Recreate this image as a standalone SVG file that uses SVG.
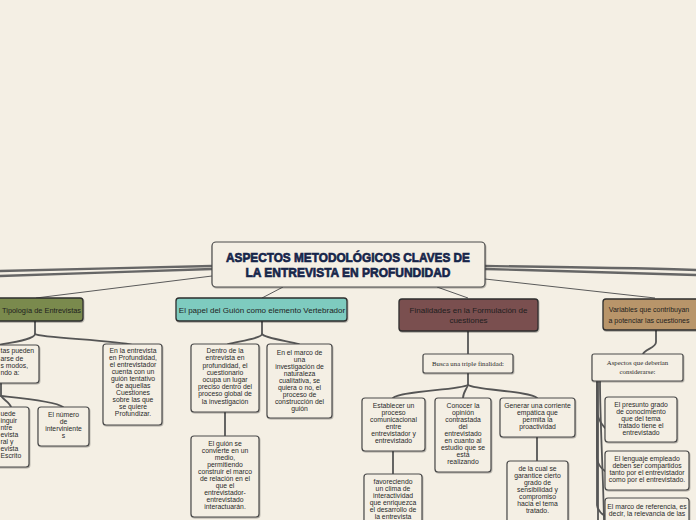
<svg xmlns="http://www.w3.org/2000/svg" width="696" height="520" viewBox="0 0 696 520">
<defs>
<style>
.bg{fill:#f4efe4}
.box{fill:#f4efe4;stroke:#4a4a4a;stroke-width:1.2}
.main{stroke:#2e2e2e;stroke-width:1.3}
.t{font-family:"Liberation Sans",Arial,sans-serif;font-size:6.8px;fill:#2a2a2a;text-anchor:middle}
.m{font-family:"Liberation Sans",Arial,sans-serif;font-size:8px;fill:#1e1e1e;text-anchor:middle}
.l{text-anchor:start}
.s{font-family:"Liberation Serif","Times New Roman",serif;font-size:6.8px;fill:#2a2a2a;text-anchor:middle}
.title{font-family:"Liberation Sans",Arial,sans-serif;font-weight:bold;font-size:13.5px;fill:#16254a;stroke:#16254a;stroke-width:0.7;text-anchor:middle}
.c{fill:none;stroke:#555;stroke-width:1.8;stroke-linecap:round}
.thin{fill:none;stroke:#5a5a5a;stroke-width:1}
.thick{fill:none;stroke:#666;stroke-width:2.4}
</style>
<filter id="sh" x="-10%" y="-10%" width="120%" height="130%">
<feDropShadow dx="0.6" dy="1" stdDeviation="0.6" flood-color="#000" flood-opacity="0.3"/>
</filter>
</defs>
<rect class="bg" x="0" y="0" width="696" height="520"/>

<g id="connectors">
<path class="thick" d="M212,266 C150,267 60,270 0,271"/>
<path class="thick" d="M212,269 C150,271 60,274 0,276" stroke-width="1.6"/>
<path class="thick" d="M485,266 C560,267 640,268 696,270"/>
<path class="thick" d="M485,269 C560,271 640,273 696,275" stroke-width="1.6"/>
<path class="thin" d="M212,276 L36,298"/>
<path class="thin" d="M283,287 L262,298"/>
<path class="thin" d="M437,287 L468,298"/>
<path class="thin" d="M485,279 L655,298"/>
<path class="c" d="M35,321 V334 C35,339 15,342 -2,345"/>
<path class="c" d="M35,334 C40,338 115,340 133,345"/>
<path class="c" d="M1,383 V396 C4,400 10,403 11,407"/>
<path class="c" d="M1,396 C20,398 55,401 63,407"/>
<path class="c" d="M262,321 V334 C262,338 240,341 228,344"/>
<path class="c" d="M262,334 C264,338 288,341 299,344"/>
<path class="c" d="M225,412 V436"/>
<path class="c" d="M468,331 V354"/>
<path class="c" d="M468,373 V385 C460,390 400,391 393,398"/>
<path class="c" d="M468,385 C466,390 463,393 463,398"/>
<path class="c" d="M468,385 C475,390 530,391 537,398"/>
<path class="c" d="M393,451 V474"/>
<path class="c" d="M537,437 V461"/>
<path class="c" d="M656,330 V342 C656,348 645,349 643,354"/>
<path class="c" d="M597,381 V410 C597,420 602,424 605,428"/>
<path class="c" d="M597,381 V458 C598,466 602,469 605,471"/>
<path class="c" d="M597,381 V505 C598,512 602,514 605,516"/>
<path class="c" d="M598,381 V520"/>
<path class="c" d="M600,381 C600,420 603,470 604,520"/>
</g>

<g id="root">
<rect class="box" x="212" y="242" width="273" height="45" rx="4" stroke="#777" filter="url(#sh)"/>
<text class="title" x="348" y="262" textLength="244" lengthAdjust="spacingAndGlyphs">ASPECTOS METODOLÓGICOS CLAVES DE</text>
<text class="title" x="348" y="277" textLength="205" lengthAdjust="spacingAndGlyphs">LA ENTREVISTA EN PROFUNDIDAD</text>
</g>

<g id="tipologia">
<rect class="main" x="-10" y="298" width="93" height="23" rx="3" fill="#7a8a4e" filter="url(#sh)"/>
<text class="m" x="2" y="312.5" style="text-anchor:start;font-size:7.4px">Tipología de Entrevistas</text>
</g>
<g id="tip-clasificacion">
<rect class="box" x="-40" y="345" width="79" height="38" rx="3" filter="url(#sh)"/>
<text class="t" style="text-anchor:start"><tspan x="0.5" y="353">tas pueden</tspan><tspan x="0.5" y="361">arse de</tspan><tspan x="0.5" y="368">s modos,</tspan><tspan x="0.5" y="375">ndo a:</tspan></text>
</g>
<g id="tip-oral-escrito">
<rect class="box" x="-25" y="407" width="54" height="60" rx="3" filter="url(#sh)"/>
<text class="t" style="text-anchor:start"><tspan x="0.5" y="416">uede</tspan><tspan x="0.5" y="423">inguir</tspan><tspan x="0.5" y="430">ntre</tspan><tspan x="0.5" y="437">evista</tspan><tspan x="0.5" y="444">ral y</tspan><tspan x="0.5" y="451">evista</tspan><tspan x="0.5" y="458">Escrito</tspan></text>
</g>
<g id="tip-intervinientes">
<rect class="box" x="38" y="407" width="51" height="39" rx="3" filter="url(#sh)"/>
<text class="t"><tspan x="63.5" y="417">El número</tspan><tspan x="63.5" y="424">de</tspan><tspan x="63.5" y="431">interviniente</tspan><tspan x="63.5" y="438">s</tspan></text>
</g>
<g id="tip-profundidad">
<rect class="box" x="103" y="344" width="59" height="81" rx="3" filter="url(#sh)"/>
<text class="t"><tspan x="133" y="353">En la entrevista</tspan><tspan x="133" y="360">en Profundidad,</tspan><tspan x="133" y="367">el entrevistador</tspan><tspan x="133" y="374">cuenta con un</tspan><tspan x="133" y="381">guión tentativo</tspan><tspan x="133" y="388">de aquellas</tspan><tspan x="133" y="395">Cuestiones</tspan><tspan x="133" y="402">sobre las que</tspan><tspan x="133" y="409">se quiere</tspan><tspan x="133" y="416">Profundizar.</tspan></text>
</g>

<g id="papel">
<rect class="main" x="176" y="298" width="171" height="23" rx="3" fill="#7ecbbf" filter="url(#sh)"/>
<text class="m" x="262" y="312.5">El papel del Guión como elemento Vertebrador</text>
</g>
<g id="papel-dentro">
<rect class="box" x="191" y="344" width="68" height="68" rx="3" filter="url(#sh)"/>
<text class="t"><tspan x="225" y="353">Dentro de la</tspan><tspan x="225" y="360">entrevista en</tspan><tspan x="225" y="368">profundidad, el</tspan><tspan x="225" y="375">cuestionario</tspan><tspan x="225" y="382">ocupa un lugar</tspan><tspan x="225" y="389">preciso dentro del</tspan><tspan x="225" y="396">proceso global de</tspan><tspan x="225" y="404">la investigación</tspan></text>
</g>
<g id="papel-marco">
<rect class="box" x="267" y="344" width="65" height="74" rx="3" filter="url(#sh)"/>
<text class="t"><tspan x="299.5" y="355">En el marco de</tspan><tspan x="299.5" y="362">una</tspan><tspan x="299.5" y="369">investigación de</tspan><tspan x="299.5" y="376">naturaleza</tspan><tspan x="299.5" y="383">cualitativa, se</tspan><tspan x="299.5" y="390">quiera o no, el</tspan><tspan x="299.5" y="397">proceso de</tspan><tspan x="299.5" y="404">construcción del</tspan><tspan x="299.5" y="411">guión</tspan></text>
</g>
<g id="papel-medio">
<rect class="box" x="191" y="436" width="68" height="81" rx="3" filter="url(#sh)"/>
<text class="t"><tspan x="225" y="446">El guión se</tspan><tspan x="225" y="453">convierte en un</tspan><tspan x="225" y="460">medio,</tspan><tspan x="225" y="467">permitiendo</tspan><tspan x="225" y="474">construir el marco</tspan><tspan x="225" y="481">de relación en el</tspan><tspan x="225" y="488">que el</tspan><tspan x="225" y="495">entrevistador-</tspan><tspan x="225" y="502">entrevistado</tspan><tspan x="225" y="509">interactuarán.</tspan></text>
</g>

<g id="finalidades">
<rect class="main" x="399" y="299" width="139" height="32" rx="3" fill="#7a5050" filter="url(#sh)"/>
<text class="m"><tspan x="468.5" y="313">Finalidades en la Formulación de</tspan><tspan x="468.5" y="323">cuestiones</tspan></text>
</g>
<g id="fin-triple">
<rect class="box" x="423" y="354" width="90" height="19" rx="2" filter="url(#sh)"/>
<text class="s" x="468" y="366">Busca una triple finalidad:</text>
</g>
<g id="fin-establecer">
<rect class="box" x="362" y="398" width="63" height="53" rx="3" filter="url(#sh)"/>
<text class="t"><tspan x="393.5" y="408">Establecer un</tspan><tspan x="393.5" y="415">proceso</tspan><tspan x="393.5" y="422">comunicacional</tspan><tspan x="393.5" y="429">entre</tspan><tspan x="393.5" y="436">entrevistador y</tspan><tspan x="393.5" y="443">entrevistado</tspan></text>
</g>
<g id="fin-conocer">
<rect class="box" x="435" y="398" width="56" height="74" rx="3" filter="url(#sh)"/>
<text class="t"><tspan x="463" y="408">Conocer la</tspan><tspan x="463" y="415">opinión</tspan><tspan x="463" y="422">contrastada</tspan><tspan x="463" y="429">del</tspan><tspan x="463" y="436">entrevistado</tspan><tspan x="463" y="443">en cuanto al</tspan><tspan x="463" y="450">estudio que se</tspan><tspan x="463" y="457">está</tspan><tspan x="463" y="464">realizando</tspan></text>
</g>
<g id="fin-generar">
<rect class="box" x="500" y="398" width="75" height="39" rx="3" filter="url(#sh)"/>
<text class="t"><tspan x="537.5" y="408">Generar una corriente</tspan><tspan x="537.5" y="415">empática que</tspan><tspan x="537.5" y="422">permita la</tspan><tspan x="537.5" y="429">proactividad</tspan></text>
</g>
<g id="fin-favoreciendo">
<rect class="box" x="364" y="474" width="58" height="60" rx="3" filter="url(#sh)"/>
<text class="t"><tspan x="393" y="484">favoreciendo</tspan><tspan x="393" y="491">un clima de</tspan><tspan x="393" y="498">interactividad</tspan><tspan x="393" y="505">que enriquezca</tspan><tspan x="393" y="512">el desarrollo de</tspan><tspan x="393" y="519">la entrevista</tspan></text>
</g>
<g id="fin-garantice">
<rect class="box" x="507" y="461" width="61" height="64" rx="3" filter="url(#sh)"/>
<text class="t"><tspan x="537.5" y="471">de la cual se</tspan><tspan x="537.5" y="478">garantice cierto</tspan><tspan x="537.5" y="485">grado de</tspan><tspan x="537.5" y="492">sensibilidad y</tspan><tspan x="537.5" y="499">compromiso</tspan><tspan x="537.5" y="506">hacia el tema</tspan><tspan x="537.5" y="513">tratado.</tspan></text>
</g>

<g id="variables">
<rect class="main" x="603" y="299" width="110" height="31" rx="3" fill="#b8956a" filter="url(#sh)"/>
<text class="m" style="font-size:7px"><tspan x="649" y="312">Variables que contribuyan</tspan><tspan x="649" y="323">a potenciar las cuestiones</tspan></text>
</g>
<g id="var-aspectos">
<rect class="box" x="592" y="354" width="91" height="27" rx="2" filter="url(#sh)"/>
<text class="s"><tspan x="637.5" y="365">Aspectos que deberían</tspan><tspan x="637.5" y="374">considerarse:</tspan></text>
</g>
<g id="var-grado">
<rect class="box" x="605" y="397" width="72" height="45" rx="3" filter="url(#sh)"/>
<text class="t"><tspan x="641" y="407">El presunto grado</tspan><tspan x="641" y="414">de conocimiento</tspan><tspan x="641" y="421">que del tema</tspan><tspan x="641" y="428">tratado tiene el</tspan><tspan x="641" y="435">entrevistado</tspan></text>
</g>
<g id="var-lenguaje">
<rect class="box" x="605" y="451" width="84" height="39" rx="3" filter="url(#sh)"/>
<text class="t"><tspan x="647" y="461">El lenguaje empleado</tspan><tspan x="647" y="468">deben ser compartidos</tspan><tspan x="647" y="475">tanto por el entrevistador</tspan><tspan x="647" y="482">como por el entrevistado.</tspan></text>
</g>
<g id="var-marco">
<rect class="box" x="605" y="498" width="84" height="40" rx="3" filter="url(#sh)"/>
<text class="t"><tspan x="647" y="509">El marco de referencia, es</tspan><tspan x="647" y="516">decir, la relevancia de las</tspan></text>
</g>
</svg>
